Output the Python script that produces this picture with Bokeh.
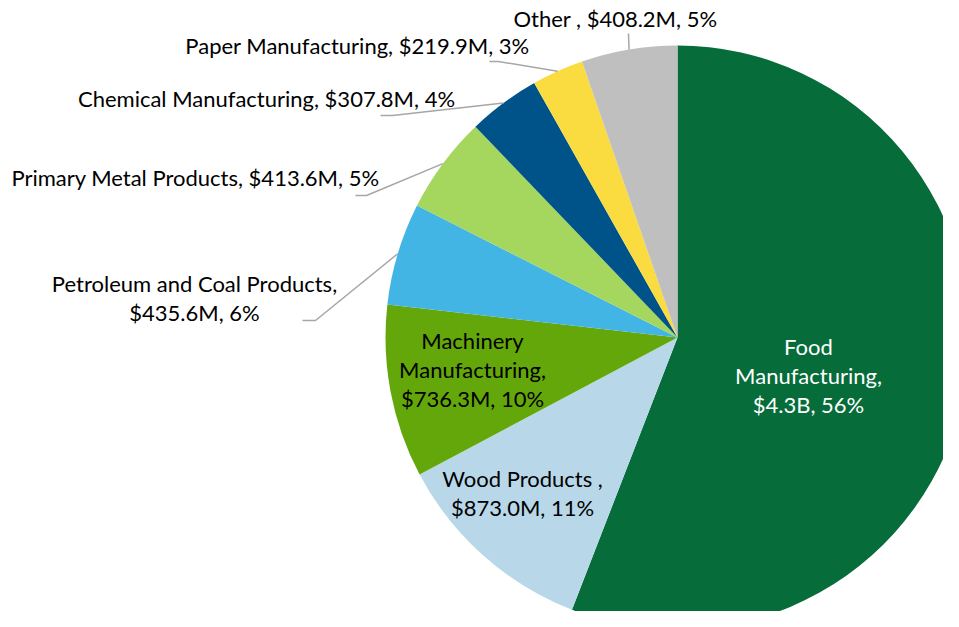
import math
from bokeh.plotting import figure
from bokeh.models import Range1d, ColumnDataSource
from bokeh.core.properties import value
from bokeh.embed import file_html
from bokeh.resources import INLINE

# ---- data ----
categories = ["Food Manufacturing", "Wood Products ", "Machinery Manufacturing",
              "Petroleum and Coal Products", "Primary Metal Products",
              "Chemical Manufacturing", "Paper Manufacturing", "Other "]
values_musd = [4300.0, 873.0, 736.3, 435.6, 413.6, 307.8, 219.9, 408.2]
value_labels = ["$4.3B", "$873.0M", "$736.3M", "$435.6M", "$413.6M", "$307.8M", "$219.9M", "$408.2M"]
colors = ["#066C3A", "#B8D8EA", "#64A70B", "#42B5E5", "#A5D65E", "#005389", "#FADC41", "#BFBFBF"]

# ---- layout (screen px) ----
W, H = 943, 611
CX, CY, R = 677, 337, 292
FONT = "Lato"
FS = "22px"
LH = 29
# label style: 'name3' = name split + value line, 'two' = name, / value, 'one' = single line
label_mode = ["name3", "two", "name3", "two", "one", "one", "one", "one"]
label_pos = [(808, 375), (522, 492), (472, 369), (194, 297), (195, 177), (266, 98), (357, 45), (615, 18)]
label_color = ["white", "black", "black", "black", "black", "black", "black", "black"]
# leader line start points (label side), None = no leader
leader_start = [None, None, None, [(302, 320), (315, 320)], [(355, 195), (366, 195)],
                [(380, 115), (392, 115)], [(489, 61), (498, 61)], [(628, 33)]]


def sy(y):
    return 627 - y


total = sum(values_musd)
fracs = [v / total for v in values_musd]
pcts = [f"{round(f * 100)}%" for f in fracs]

starts, ends, mids = [], [], []
cum = 0.0
for f in fracs:
    a0 = math.pi / 2 - 2 * math.pi * cum
    cum += f
    a1 = math.pi / 2 - 2 * math.pi * cum
    starts.append(a0)
    ends.append(a1)
    mids.append((a0 + a1) / 2)

p = figure(width=W, height=H, x_range=Range1d(0, W), y_range=Range1d(sy(H), sy(0)),
           output_backend="svg", toolbar_location=None, min_border=0)
p.axis.visible = False
p.grid.visible = False
p.outline_line_color = None
p.background_fill_color = "white"
p.border_fill_color = "white"

src = ColumnDataSource(dict(start=starts, end=ends, color=colors))
p.wedge(x=CX, y=sy(CY), radius=R, start_angle="start", end_angle="end", direction="clock",
        fill_color="color", line_color=None, source=src)

# leader lines
for i, pts in enumerate(leader_start):
    if pts is None:
        continue
    ex = CX + R * math.cos(mids[i])
    ey = sy(CY) + R * math.sin(mids[i])
    xs = [q[0] for q in pts] + [ex]
    ys = [sy(q[1]) for q in pts] + [ey]
    p.line(xs, ys, line_color="#A6A6A6", line_width=1.5)

# labels
tx, ty, tt, tc = [], [], [], []
for i, cat in enumerate(categories):
    if label_mode[i] == "name3":
        first, rest = cat.split(" ", 1)
        lines = [first, rest + ",", f"{value_labels[i]}, {pcts[i]}"]
    elif label_mode[i] == "two":
        lines = [cat + ",", f"{value_labels[i]}, {pcts[i]}"]
    else:
        lines = [f"{cat}, {value_labels[i]}, {pcts[i]}"]
    lx, ly = label_pos[i]
    n = len(lines)
    for k, ln in enumerate(lines):
        tx.append(lx)
        ty.append(sy(ly + (k - (n - 1) / 2) * LH))
        tt.append(ln)
        tc.append(label_color[i])

p.text(x=tx, y=ty, text=tt, text_color=tc, text_align="center", text_baseline="middle",
       text_font=value(FONT), text_font_size=FS)

open("out.html", "w").write(file_html(p, INLINE))
